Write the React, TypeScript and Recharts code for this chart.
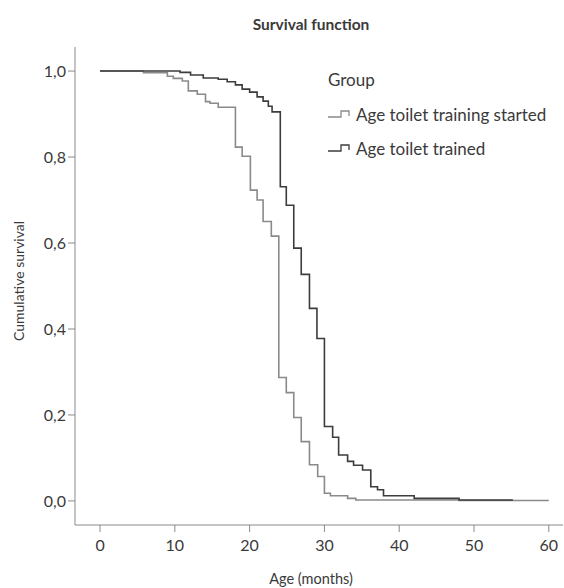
import React from "react";
import { LineChart, Line, XAxis, YAxis } from "recharts";

// Kaplan-Meier steps: [month, cumulative survival]
const startedMonths = [0, 5.8, 9.0, 9.8, 11.0, 11.8, 13.0, 14.1, 14.7, 15.8, 18.1, 19.0, 20.1, 21.0, 21.8, 22.9, 23.9, 24.9, 25.9, 26.9, 28.0, 29.1, 30.0, 30.8, 33.1, 34.2, 48.0, 60.0];
const startedSurvival = [1.0, 0.996, 0.988, 0.983, 0.977, 0.954, 0.946, 0.929, 0.925, 0.916, 0.823, 0.802, 0.723, 0.7, 0.65, 0.616, 0.287, 0.252, 0.194, 0.138, 0.084, 0.057, 0.018, 0.012, 0.006, 0.002, 0.001, 0.001];

const trainedMonths = [0, 10.7, 12.1, 13.8, 15.8, 17.0, 18.1, 19.0, 20.0, 21.0, 21.8, 22.5, 23.0, 24.1, 24.9, 25.9, 26.9, 28.0, 29.0, 30.0, 31.1, 31.9, 33.1, 33.9, 35.1, 36.2, 37.1, 37.9, 42.0, 48.0, 55.2];
const trainedSurvival = [1.0, 0.997, 0.991, 0.984, 0.981, 0.975, 0.968, 0.958, 0.951, 0.94, 0.93, 0.918, 0.905, 0.731, 0.688, 0.588, 0.527, 0.448, 0.378, 0.173, 0.148, 0.107, 0.092, 0.083, 0.072, 0.033, 0.026, 0.012, 0.006, 0.002, 0.002];

const xTicks = [0, 10, 20, 30, 40, 50, 60];
const yTicks = [0, 0.2, 0.4, 0.6, 0.8, 1.0];

const seriesNames = ["Age toilet training started", "Age toilet trained"];
const seriesColors = ["#8a8a8a", "#3c3c3c"];

const startedData = startedMonths.map((m, i) => ({ month: m, s: startedSurvival[i] }));
const trainedData = trainedMonths.map((m, i) => ({ month: m, s: trainedSurvival[i] }));

const FONT = "Lato, 'Open Sans', sans-serif";
const TEXT = "#3a3a3a";

const fmt = (v: number) => v.toFixed(1).replace(".", ",");

const StepIcon = ({ color }: { color: string }) => (
  <svg width={22} height={12} style={{ display: "block" }}>
    <path d="M0,9 H13 V3 H21 V8" fill="none" stroke={color} strokeWidth={1.3} />
  </svg>
);

const LegendBox = () => (
  <div style={{ position: "absolute", left: 328, top: 69, fontFamily: FONT, fontSize: 17, color: TEXT }}>
    <div style={{ height: 22, lineHeight: "22px" }}>Group</div>
    {seriesNames.map((n, i) => (
      <div key={n} style={{ display: "flex", alignItems: "center", height: 22, marginTop: 12 }}>
        <StepIcon color={seriesColors[i]} />
        <span style={{ marginLeft: 6 }}>{n}</span>
      </div>
    ))}
  </div>
);

export default function App() {
  return (
    <div style={{ position: "absolute", left: 0, top: 0, width: 564, height: 588, background: "#fff" }}>
      <LineChart width={564} height={588} margin={{ top: 47, right: 1, bottom: 0, left: 0 }}>
        <text x={311} y={30} textAnchor="middle" fontFamily={FONT} fontWeight={700} fontSize={15.5} fill={TEXT}>
          Survival function
        </text>
        <XAxis
          type="number"
          dataKey="month"
          domain={[-3.35, 61.9]}
          ticks={xTicks}
          allowDataOverflow
          stroke="#8a8a8a"
          tickSize={7}
          tickMargin={8}
          tick={{ fill: TEXT, fontFamily: FONT, fontSize: 16 }}
          label={{ value: "Age (months)", position: "insideBottom", offset: 4, dx: -8, fill: TEXT, fontFamily: FONT, fontSize: 14.5 }}
          height={63}
        />
        <YAxis
          type="number"
          domain={[-0.056, 1.056]}
          ticks={yTicks}
          allowDataOverflow
          tickFormatter={fmt}
          stroke="#8a8a8a"
          tickSize={7}
          tickMargin={2}
          tick={{ fill: TEXT, fontFamily: FONT, fontSize: 16 }}
          width={75}
          label={{ value: "Cumulative survival", angle: -90, position: "insideLeft", offset: 19, dy: 55, fill: TEXT, fontFamily: FONT, fontSize: 14 }}
        />
        <Line
          data={startedData}
          dataKey="s"
          type="stepAfter"
          stroke={seriesColors[0]}
          strokeWidth={1.6}
          dot={false}
          activeDot={false}
          isAnimationActive={false}
        />
        <Line
          data={trainedData}
          dataKey="s"
          type="stepAfter"
          stroke={seriesColors[1]}
          strokeWidth={1.6}
          dot={false}
          activeDot={false}
          isAnimationActive={false}
        />
      </LineChart>
      <LegendBox />
    </div>
  );
}
